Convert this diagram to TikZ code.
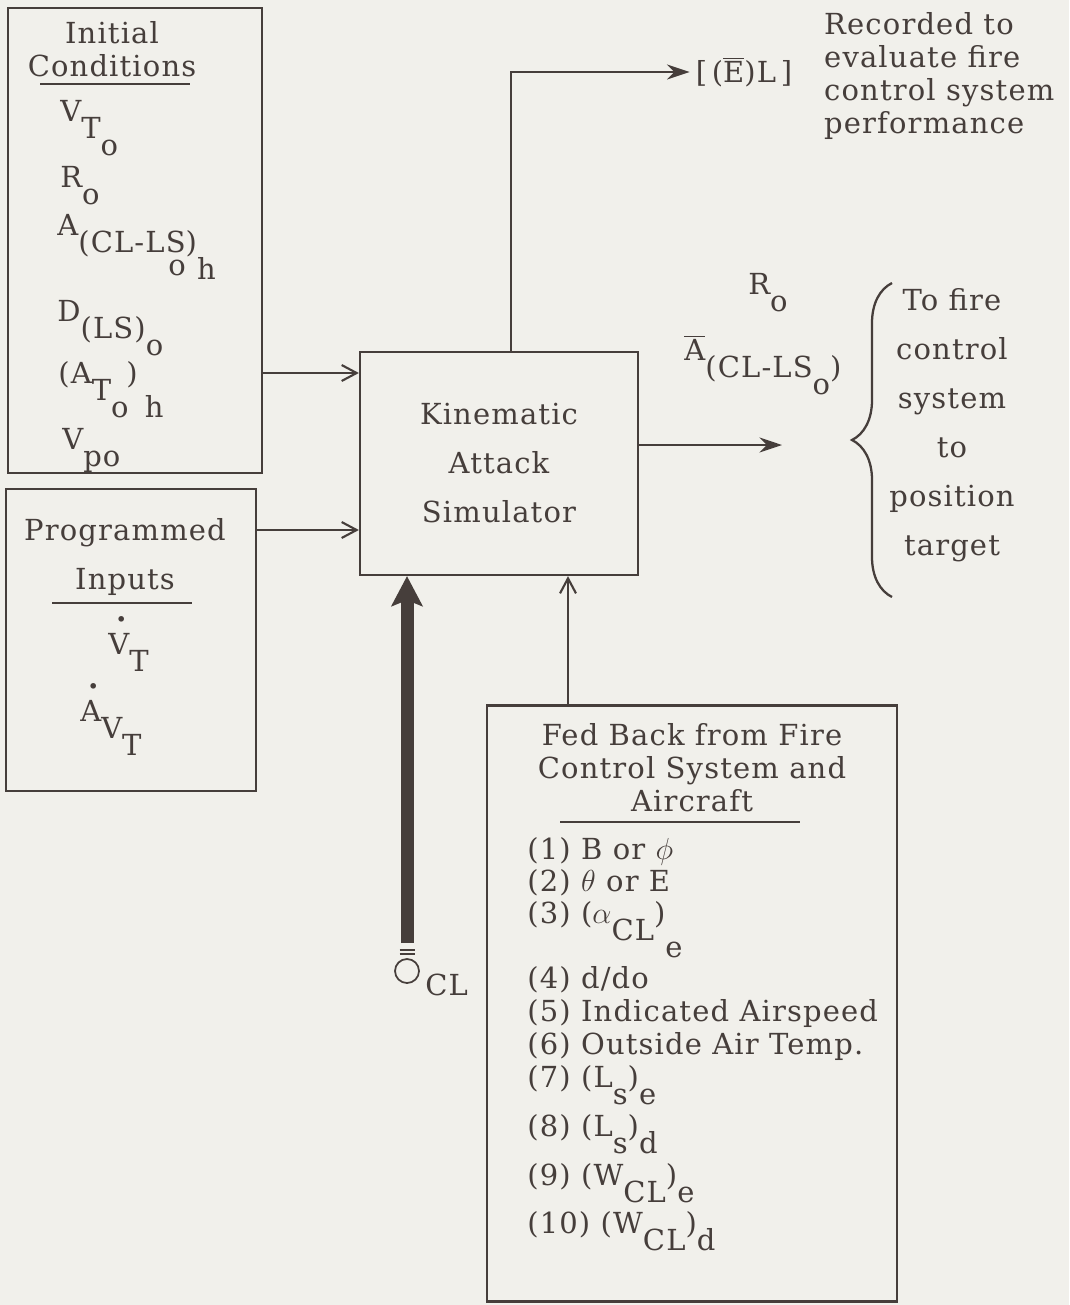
\documentclass[tikz,border=0pt]{standalone}
\usepackage{fontspec}
\setmainfont{DejaVu Serif}[LetterSpace=4]
\usetikzlibrary{arrows.meta,decorations.pathreplacing}
\definecolor{Ink}{HTML}{463E3B}
\definecolor{Paper}{HTML}{F1F0EB}
\newcommand\dn[1]{\raisebox{-0.6em}{#1}}
\newcommand\dotd[1]{\makebox[0pt][l]{\kern0.25em\raisebox{0.95em}{\fontsize{11}{11}\selectfont\textbullet}}#1}

\begin{document}
\begin{tikzpicture}[
    x=0.02cm, y=-0.02cm,
    every node/.style={font=\fontsize{16.5}{18.8}\selectfont, text=Ink},
    blk/.style={draw=Ink, line width=1.3pt, inner sep=0pt},
    item/.style={anchor=base west, inner sep=0pt},
    rule/.style={draw=Ink, line width=1pt},
    arr/.style={-{Straight Barb[length=0.3cm,width=0.32cm]}, line width=1.2pt, draw=Ink},
    fat/.style={-{Stealth[length=0.45cm,width=0.3cm]}, line width=1.2pt, draw=Ink},
    heavy/.style={-{Stealth[length=0.6cm,width=0.62cm,inset=0.12cm]}, line width=0.26cm, draw=Ink}
  ]
    \fill[Paper] (0,0) rectangle (1069,1305);

    \node[blk, minimum width=5.08cm, minimum height=9.3cm] (ic) at (135,240.5) {};
    \node[blk, minimum width=5.0cm, minimum height=6.04cm] (pi) at (131,640) {};
    \node[blk, minimum width=5.56cm, minimum height=4.46cm, align=center, font=\fontsize{16.5}{27.9}\selectfont] (kas) at (499,463.5) {Kinematic\\Attack\\Simulator};
    \node[blk, minimum width=8.2cm, minimum height=11.92cm] (fb) at (692,1003.5) {};

    % initial conditions
    \node[align=center] (ict) at (112,49) {Initial\\Conditions};
    \draw[rule] (40,84) -- (190,84);
    \node[item] (ic1) at (60,121) {V\dn{T\dn{o}}};
    \node[item] (ic2) at (60,187) {R\dn{o}};
    \node[item] (ic3) at (57,235) {A\dn{(CL-LS\llap{\raisebox{-0.8em}{o}})\raisebox{-0.95em}{h}}};
    \node[item] (ic4) at (57,321) {D\dn{(LS)\dn{o}}};
    \node[item] (ic5) at (58,383) {(A\dn{T\rlap{\dn{o}}}\ \,)\kern0.25em\dn{\dn{h}}};
    \node[item] (ic6) at (62,449) {V\dn{po}};

    % programmed inputs
    \node[align=center, font=\fontsize{16.5}{28.4}\selectfont] (pit) at (125,557) {Programmed\\Inputs};
    \draw[rule] (52,603) -- (192,603);
    \node[item] (pi1) at (108,654) {\dotd{V}\dn{T}};
    \node[item] (pi2) at (80,721) {\dotd{A}\dn{V\dn{T}}};

    \coordinate (r1) at (0,373);
    \coordinate (r2) at (0,530);
    \draw[arr] (r1 -| ic.east) -- (r1 -| kas.west);
    \draw[arr] (r2 -| pi.east) -- (r2 -| kas.west);

    % recorded output
    \node (el) at (744,72) {[\,($\overline{\hbox{E}}$)L\,]};
    \node[anchor=west, align=left] (rec) at (818,76) {Recorded to\\evaluate fire\\control system\\performance};
    \draw[fat] ([xshift=0.24cm]kas.north) |- (el.west);

    % to fire control
    \node[item] (ro) at (748,294) {R\dn{o}};
    \node[item] (abar) at (684,360) {$\overline{\hbox{A}}$\dn{(CL-LS\dn{o})}};
    \coordinate (tip) at (782,445);
    \draw[fat] (tip -| kas.east) -- (tip);
    \coordinate (bt) at (892,283);
    \coordinate (bb) at (892,597);
    \draw[Ink, line width=1.3pt, decorate, decoration={brace, amplitude=0.8cm}] (bb) -- (bt);
    \node[align=center, font=\fontsize{16.5}{27.9}\selectfont] (tofire) at (952,425) {To fire\\control\\system\\to\\position\\target};

    % theta CL input
    \node[circle, draw=Ink, line width=1pt, minimum size=0.48cm, inner sep=0pt] (ocl) at (407,971) {};
    \node[item] (cl) at (425,995) {CL};
    \draw[rule] ([xshift=-0.15cm,yshift=0.17cm]ocl.north) -- ++(0.3cm,0);
    \draw[rule] ([xshift=-0.15cm,yshift=0.08cm]ocl.north) -- ++(0.3cm,0);
    \draw[heavy] ([yshift=0.3cm]ocl.north) -- (ocl.north |- kas.south);

    % fed back
    \coordinate (fx) at (568,0);
    \draw[arr] (fx |- fb.north) -- (fx |- kas.south);
    \node[align=center] (fbt) at (692,768) {Fed Back from Fire\\Control System and\\Aircraft};
    \draw[rule] (560,822) -- (800,822);
    \node[item] (fb1) at (527,859) {(1) B or $\phi$};
    \node[item] (fb2) at (527,891) {(2) $\theta$ or E};
    \node[item] (fb3) at (527,923) {(3) ($\alpha$\dn{CL})\dn{\dn{e}}};
    \node[item] (fb4) at (527,988) {(4) d/do};
    \node[item] (fb5) at (527,1021) {(5) Indicated Airspeed};
    \node[item] (fb6) at (527,1054) {(6) Outside Air Temp.};
    \node[item] (fb7) at (527,1087) {(7) (L\dn{s})\dn{e}};
    \node[item] (fb8) at (527,1136) {(8) (L\dn{s})\dn{d}};
    \node[item] (fb9) at (527,1185) {(9) (W\dn{CL})\dn{e}};
    \node[item] (fb10) at (527,1233) {(10) (W\dn{CL})\dn{d}};
  \end{tikzpicture}
\end{document}
